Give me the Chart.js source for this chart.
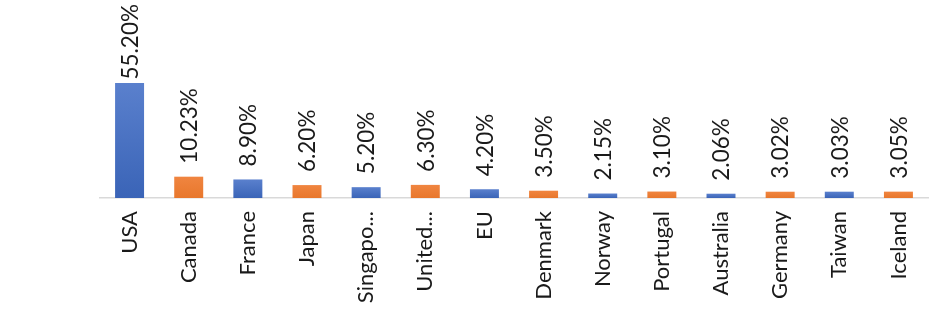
<!DOCTYPE html>
<html>
<head>
<meta charset="utf-8">
<script src="https://cdn.jsdelivr.net/npm/chart.js@4"></script>
<style>
  html, body { margin: 0; padding: 0; background: #fff; }
  #wrap { width: 944px; height: 317px; }
</style>
</head>
<body>
<div id="wrap"><canvas id="chart"></canvas></div>
<script>
// Datos del gráfico
const countries = ['USA', 'Canada', 'France', 'Japan', 'Singapo...', 'United...', 'EU',
    'Denmark', 'Norway', 'Portugal', 'Australia', 'Germany', 'Taiwan', 'Iceland'];
const shares = [55.20, 10.23, 8.90, 6.20, 5.20, 6.30, 4.20, 3.50, 2.15, 3.10, 2.06, 3.02, 3.03, 3.05];
const shareLabels = ['55.20%', '10.23%', '8.90%', '6.20%', '5.20%', '6.30%', '4.20%',
    '3.50%', '2.15%', '3.10%', '2.06%', '3.02%', '3.03%', '3.05%'];

const FONT = 'Lato, "Open Sans", sans-serif';
const TEXT_COLOR = '#1a1a1a';

// Colores alternos azul / naranja con un degradado suave
function barFill(context) {
    const chart = context.chart;
    const blue = context.dataIndex % 2 === 0;
    if (!chart.chartArea) return blue ? '#4472c4' : '#ed7d31';
    const yScale = chart.scales.y;
    const top = yScale.getPixelForValue(shares[context.dataIndex]);
    const base = yScale.getPixelForValue(0);
    const g = chart.ctx.createLinearGradient(0, top, 0, base);
    if (blue) {
        g.addColorStop(0, '#5a80cd');
        g.addColorStop(1, '#3a64b7');
    } else {
        g.addColorStop(0, '#f08540');
        g.addColorStop(1, '#e8772c');
    }
    return g;
}

// Etiquetas de valor rotadas sobre cada barra
const valueLabels = {
    id: 'valueLabels',
    afterDatasetsDraw(chart) {
        const ctx = chart.ctx;
        const meta = chart.getDatasetMeta(0);
        ctx.save();
        ctx.font = '22.5px ' + FONT;
        ctx.fillStyle = TEXT_COLOR;
        ctx.textAlign = 'left';
        ctx.textBaseline = 'middle';
        meta.data.forEach((bar, i) => {
            const text = shareLabels[i];
            const w = ctx.measureText(text).width;
            const y = Math.max(bar.y - 13, 4 + w);
            ctx.save();
            ctx.translate(bar.x + 1, y);
            ctx.rotate(-Math.PI / 2);
            ctx.fillText(text, 0, 0);
            ctx.restore();
        });
        ctx.restore();
    }
};

new Chart(document.getElementById('chart'), {
    type: 'bar',
    data: {
        labels: countries,
        datasets: [{
            data: shares,
            backgroundColor: barFill,
            borderWidth: 0,
            barPercentage: 0.49,
            categoryPercentage: 1.0
        }]
    },
    options: {
        responsive: true,
        maintainAspectRatio: false,
        animation: false,
        layout: { padding: { left: 100, right: 16, top: 3, bottom: 0 } },
        plugins: {
            legend: { display: false },
            tooltip: { enabled: false }
        },
        scales: {
            x: {
                grid: { display: false, drawTicks: false },
                border: { display: true, color: '#d9d9d9', width: 1.5 },
                ticks: {
                    color: TEXT_COLOR,
                    font: { family: FONT, size: 22 },
                    minRotation: 90,
                    maxRotation: 90,
                    autoSkip: false,
                    padding: 13
                },
                afterFit(scale) { scale.height = 119; }
            },
            y: {
                display: false,
                min: 0,
                max: 93.6
            }
        }
    },
    plugins: [valueLabels]
});
</script>
</body>
</html>
